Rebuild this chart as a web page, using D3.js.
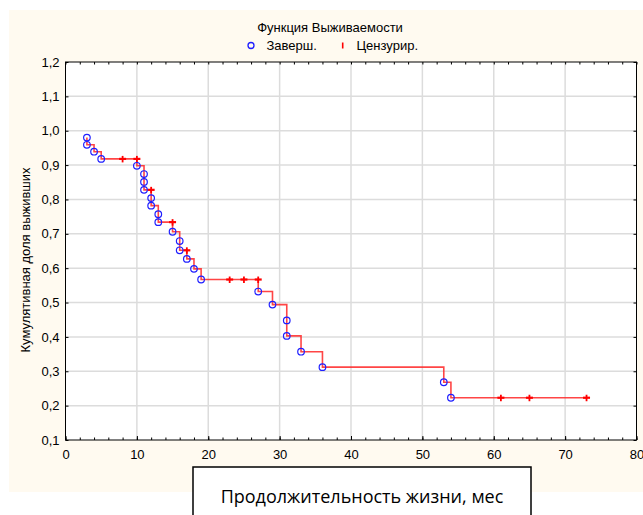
<!DOCTYPE html>
<html>
<head>
<meta charset="utf-8">
<script src="https://cdn.jsdelivr.net/npm/d3@7"></script>
<style>
  html, body { margin: 0; padding: 0; background: #ffffff; }
  svg { display: block; }
  text { font-family: "Liberation Sans", Arial, sans-serif; fill: #000; }
</style>
</head>
<body>
<svg id="chart" width="643" height="515"></svg>
<script>
// Kaplan–Meier survival estimate: completed cases (events) and censored cases
const eventTime = [3, 3, 4, 5, 10, 11, 11, 11, 12, 12, 13, 13, 15, 16, 16, 17, 18, 19, 27, 29, 31, 31, 33, 36, 53, 54];
const eventSurv = [0.980, 0.959, 0.939, 0.918, 0.898, 0.874, 0.851, 0.828, 0.804, 0.782, 0.757, 0.734, 0.706, 0.679, 0.652, 0.627, 0.598, 0.567, 0.532, 0.494, 0.448, 0.403, 0.357, 0.312, 0.268, 0.223];
const censorTime = [8, 10, 12, 15, 17, 23, 25, 27, 61, 65, 73];
const censorSurv = [0.918, 0.918, 0.828, 0.734, 0.652, 0.567, 0.567, 0.567, 0.223, 0.223, 0.223];

const xTicks = [0, 10, 20, 30, 40, 50, 60, 70, 80];
const yTicks = [0.1, 0.2, 0.3, 0.4, 0.5, 0.6, 0.7, 0.8, 0.9, 1.0, 1.1, 1.2];

const chartTitle = "Функция Выживаемости";
const legendLabels = ["Заверш.", "Цензурир."];
const xTitle = "Продолжительность жизни, мес";
const yTitle = "Кумулятивная доля выживших";

const svg = d3.select("#chart");
const plotL = 65.5, plotR = 636.5, plotT = 62, plotB = 440;

const x = d3.scaleLinear().domain([0, 80]).range([plotL, plotR]);
const y = d3.scaleLinear().domain([0.1, 1.2]).range([plotB, plotT]);
const comma = v => d3.format(".1f")(v).replace(".", ",");

// page background
svg.append("rect").attr("x", 9).attr("y", 10).attr("width", 634).attr("height", 482).attr("fill", "#fffaf0");
svg.append("rect").attr("x", plotL).attr("y", plotT).attr("width", plotR - plotL).attr("height", plotB - plotT).attr("fill", "#ffffff");

// grid lines
const grid = svg.append("g").attr("stroke", "#dcdcdc").attr("stroke-width", 1.5);
grid.selectAll("line.v").data(xTicks.slice(1, -1)).join("line")
  .attr("x1", d => x(d)).attr("x2", d => x(d)).attr("y1", plotT).attr("y2", plotB);
grid.selectAll("line.h").data(yTicks.slice(1, -1)).join("line")
  .attr("x1", plotL).attr("x2", plotR).attr("y1", d => y(d)).attr("y2", d => y(d));

// axes with inward ticks on all four sides
const minorX = d3.range(0, 81, 2);
function styleAxis(g) {
  g.select(".domain").remove();
  g.selectAll("line").attr("stroke", "#000");
  g.selectAll("text").style("font-size", "13px").style("font-family", "'Liberation Sans', Arial, sans-serif");
}
svg.append("g").attr("transform", `translate(0,${plotB})`)
  .call(d3.axisBottom(x).tickValues(xTicks).tickFormat(d3.format("d")).tickSizeInner(-4).tickSizeOuter(0).tickPadding(10))
  .call(styleAxis);
svg.append("g").attr("transform", `translate(0,${plotB})`)
  .call(d3.axisBottom(x).tickValues(minorX).tickFormat("").tickSizeInner(-2.5).tickSizeOuter(0))
  .call(styleAxis);
svg.append("g").attr("transform", `translate(0,${plotT})`)
  .call(d3.axisTop(x).tickValues(minorX).tickFormat("").tickSizeInner(-2.5).tickSizeOuter(0))
  .call(styleAxis);
svg.append("g").attr("transform", `translate(${plotL},0)`)
  .call(d3.axisLeft(y).tickValues(yTicks).tickFormat(comma).tickSizeInner(-3).tickSizeOuter(0).tickPadding(6))
  .call(styleAxis);
svg.append("g").attr("transform", `translate(${plotR},0)`)
  .call(d3.axisRight(y).tickValues(yTicks).tickFormat("").tickSizeInner(-3).tickSizeOuter(0))
  .call(styleAxis);

// plot frame
svg.append("rect").attr("x", plotL).attr("y", plotT).attr("width", plotR - plotL).attr("height", plotB - plotT)
  .attr("fill", "none").attr("stroke", "#000").attr("stroke-width", 1);

// survival step curve
const stepPts = eventTime.map((t, i) => [t, eventSurv[i]]);
stepPts.push([d3.max(censorTime), eventSurv[eventSurv.length - 1]]);
const line = d3.line().x(d => x(d[0])).y(d => y(d[1])).curve(d3.curveStepAfter);
svg.append("path").attr("d", line(stepPts))
  .attr("fill", "none").attr("stroke", "#ff2424").attr("stroke-width", 1.6).attr("stroke-opacity", 0.85);

// censored marks
const cens = svg.append("g").attr("stroke", "#ff0000");
censorTime.forEach((t, i) => {
  const cx = x(t), cy = y(censorSurv[i]);
  cens.append("line").attr("x1", cx - 3.5).attr("x2", cx + 3.5).attr("y1", cy).attr("y2", cy).attr("stroke-width", 2.2);
  cens.append("line").attr("x1", cx).attr("x2", cx).attr("y1", cy - 3).attr("y2", cy + 3.5).attr("stroke-width", 1.8);
});

// completed cases
svg.append("g").selectAll("circle").data(eventTime).join("circle")
  .attr("cx", d => x(d)).attr("cy", (d, i) => y(eventSurv[i])).attr("r", 3.3)
  .attr("fill", "none").attr("stroke", "#1f1fff").attr("stroke-width", 1.2);

// title and legend
svg.append("text").attr("x", 330).attr("y", 32).attr("text-anchor", "middle").style("font-size", "13px").text(chartTitle);
svg.append("circle").attr("cx", 251).attr("cy", 45.5).attr("r", 3).attr("fill", "none").attr("stroke", "#1f1fff").attr("stroke-width", 1.3);
svg.append("text").attr("x", 266.5).attr("y", 50).style("font-size", "13px").text(legendLabels[0]);
svg.append("line").attr("x1", 342.7).attr("x2", 342.7).attr("y1", 42.5).attr("y2", 48.5).attr("stroke", "#ff0000").attr("stroke-width", 1.6);
svg.append("text").attr("x", 356.5).attr("y", 50).style("font-size", "13px").text(legendLabels[1]);

// y axis title
svg.append("text").attr("transform", "translate(29.5,260) rotate(-90)").attr("text-anchor", "middle")
  .style("font-size", "13px").text(yTitle);

// x axis title in a framed box
svg.append("rect").attr("x", 193).attr("y", 467).attr("width", 338).attr("height", 60)
  .attr("fill", "#ffffff").attr("stroke", "#000").attr("stroke-width", 1.5);
svg.append("text").attr("x", 362).attr("y", 503).attr("text-anchor", "middle")
  .style("font-family", "'Open Sans', 'Noto Sans', sans-serif").style("font-size", "18px").text(xTitle);
</script>
</body>
</html>
